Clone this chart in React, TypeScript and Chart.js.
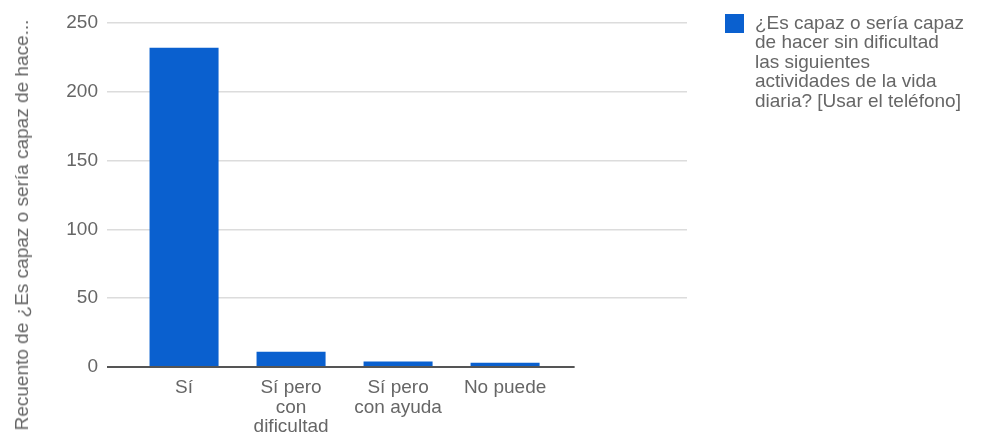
import React, { useEffect, useRef } from "react";
import { Chart, registerables } from "chart.js";

Chart.register(...registerables);

// ---- data ----
const CATEGORIES = ["Sí", "Sí pero con dificultad", "Sí pero con ayuda", "No puede"];
const CATEGORY_LINES = [["Sí"], ["Sí pero", "con", "dificultad"], ["Sí pero", "con ayuda"], ["No puede"]];
const COUNTS = [232, 11, 4, 3];
const Y_TICKS = [0, 50, 100, 150, 200, 250];
const SERIES_NAME =
  "¿Es capaz o sería capaz de hacer sin dificultad las siguientes actividades de la vida diaria? [Usar el teléfono]";
const LEGEND_LINES = [
  "¿Es capaz o sería capaz",
  "de hacer sin dificultad",
  "las siguientes",
  "actividades de la vida",
  "diaria? [Usar el teléfono]",
];
const Y_TITLE = "Recuento de ¿Es capaz o sería capaz de hace...";

// ---- layout / style ----
const FONT = "'Liberation Sans', Arial, sans-serif";
const FONT_SIZE = 19;
const TEXT_COLOR = "#666";
const BAR_COLOR = "#0a60cf";
const X_MIN = -0.72;
const X_MAX = 4.7;
const BASELINE_END = 3.65;

const baselinePlugin = {
  id: "baseline",
  afterDatasetsDraw(chart: any) {
    const { ctx, chartArea, scales } = chart;
    const y = scales.y.getPixelForValue(0);
    const xEnd = scales.x.getPixelForValue(BASELINE_END);
    ctx.save();
    ctx.strokeStyle = "#555";
    ctx.lineWidth = 2;
    ctx.beginPath();
    ctx.moveTo(chartArea.left, y);
    ctx.lineTo(xEnd, y);
    ctx.stroke();
    ctx.restore();
  },
};

function BarChart() {
  const ref = useRef<HTMLCanvasElement | null>(null);
  useEffect(() => {
    if (!ref.current) return;
    const chart = new Chart(ref.current, {
      type: "bar",
      data: {
        datasets: [
          {
            label: SERIES_NAME,
            data: COUNTS.map((v, i) => ({ x: i, y: v })),
            backgroundColor: BAR_COLOR,
            borderWidth: 0,
            barPercentage: 0.645,
            categoryPercentage: 1,
          },
        ],
      },
      options: {
        animation: false,
        responsive: true,
        maintainAspectRatio: false,
        layout: { padding: { left: 0, right: 296, top: 23, bottom: 0 } },
        plugins: { legend: { display: false }, tooltip: { enabled: false } },
        scales: {
          x: {
            type: "linear",
            offset: false,
            min: X_MIN,
            max: X_MAX,
            grid: { display: false, drawTicks: false, offset: false },
            border: { display: false },
            afterBuildTicks: (scale: any) => {
              scale.ticks = CATEGORIES.map((_, i) => ({ value: i }));
            },
            afterFit: (scale: any) => {
              scale.height = 77;
            },
            ticks: {
              autoSkip: false,
              maxRotation: 0,
              minRotation: 0,
              padding: 11,
              color: TEXT_COLOR,
              font: { family: FONT, size: FONT_SIZE, lineHeight: 1.03 },
              callback: (value: any) => CATEGORY_LINES[Math.round(Number(value))] ?? "",
            },
          },
          y: {
            type: "linear",
            min: 0,
            max: 250,
            grid: {
              drawTicks: false,
              color: (c: any) => (c.tick && c.tick.value === 0 ? "rgba(0,0,0,0)" : "#dcdcdc"),
              lineWidth: 1.5,
            },
            border: { display: false },
            afterBuildTicks: (scale: any) => {
              scale.ticks = Y_TICKS.map((v) => ({ value: v }));
            },
            afterFit: (scale: any) => {
              scale.width = 107;
            },
            ticks: {
              padding: 9,
              color: TEXT_COLOR,
              font: { family: FONT, size: FONT_SIZE },
            },
          },
        },
      },
      plugins: [baselinePlugin],
    } as any);
    return () => chart.destroy();
  }, []);
  return <canvas ref={ref} />;
}

export default function App() {
  return (
    <div
      style={{
        position: "fixed",
        left: 0,
        top: 0,
        width: 983,
        height: 444,
        background: "#fff",
        fontFamily: FONT,
        color: TEXT_COLOR,
      }}
    >
      <div style={{ position: "absolute", left: 0, top: 0, width: 983, height: 444 }}>
        <BarChart />
      </div>
      <div
        style={{
          position: "absolute",
          left: 22,
          top: 225,
          transform: "translate(-50%, -50%) rotate(-90deg)",
          whiteSpace: "nowrap",
          fontSize: FONT_SIZE,
          lineHeight: "22px",
        }}
      >
        {Y_TITLE}
      </div>
      <div style={{ position: "absolute", left: 725, top: 14, width: 19, height: 19, background: BAR_COLOR }} />
      <div
        style={{
          position: "absolute",
          left: 755,
          top: 13,
          fontSize: FONT_SIZE,
          lineHeight: "19.4px",
          whiteSpace: "nowrap",
        }}
      >
        {LEGEND_LINES.map((l, i) => (
          <div key={i}>{l}</div>
        ))}
      </div>
    </div>
  );
}
